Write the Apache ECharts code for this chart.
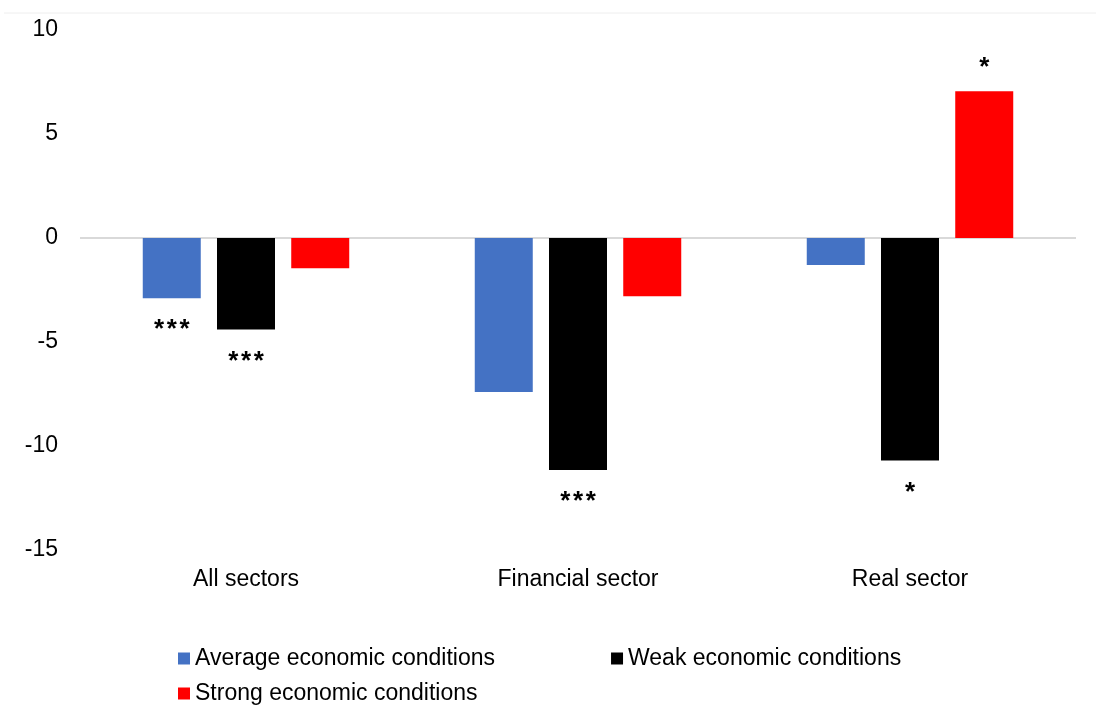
<!DOCTYPE html>
<html>
<head>
<meta charset="utf-8">
<script src="https://cdn.jsdelivr.net/npm/echarts@6/dist/echarts.min.js"></script>
<style>
html,body{margin:0;padding:0;background:#fff;}
#chart{width:1096px;height:709px;}
</style>
</head>
<body>
<div id="chart"></div>
<script>
const categories = ['All sectors', 'Financial sector', 'Real sector'];
const seriesNames = ['Average economic conditions', 'Weak economic conditions', 'Strong economic conditions'];
const averageValues = [-2.9, -7.4, -1.3];
const weakValues = [-4.4, -11.15, -10.7];
const strongValues = [-1.45, -2.8, 7.05];
const averageStars = ['***', '', ''];
const weakStars = ['***', '***', '*'];
const strongStars = ['', '', '*'];
const colors = ['#4472C4', '#000000', '#FF0000'];
const yTicks = { min: -15, max: 10, interval: 5 };

const FONT = '"Liberation Sans", Arial, Helvetica, sans-serif';

function makeSeries(name, values, stars, color, withZero) {
  const s = {
    name: name,
    type: 'bar',
    data: values.map(function (v) {
      return { value: v, label: { distance: v > 0 ? 11 : 19 } };
    }),
    barWidth: 58,
    barGap: '28%',
    itemStyle: { color: color },
    label: {
      show: true,
      position: 'outside',
      color: '#000',
      fontFamily: FONT,
      fontSize: 26,
      fontWeight: 'bold',
      formatter: function (p) {
        const st = stars[p.dataIndex];
        if (!st) return '';
        return st.split('').map(function (c) { return '{s|' + c + '}'; }).join('');
      },
      rich: {
        s: { fontFamily: FONT, fontSize: 26, fontWeight: 'bold', color: '#000', padding: [0, 1.3] }
      }
    }
  };
  if (withZero) {
    s.markLine = {
      silent: true,
      symbol: 'none',
      label: { show: false },
      lineStyle: { color: '#d9d9d9', width: 2, type: 'solid' },
      data: [{ yAxis: 0 }],
      z: 1
    };
  }
  return s;
}

const chart = echarts.init(document.getElementById('chart'));
chart.setOption({
  backgroundColor: '#ffffff',
  animation: false,
  textStyle: { fontFamily: FONT },
  grid: { left: 80, right: 20, top: 30, bottom: 159, containLabel: false },
  graphic: [{
    type: 'line',
    shape: { x1: 4, y1: 13, x2: 1096, y2: 13 },
    style: { stroke: '#eeeeee', lineWidth: 1 },
    silent: true
  }],
  legend: [{
    data: [seriesNames[0], seriesNames[1]],
    left: 173,
    top: 642,
    icon: 'rect',
    itemWidth: 12,
    itemHeight: 12,
    itemGap: 116,
    textStyle: { fontFamily: FONT, fontSize: 23, color: '#000' }
  }, {
    data: [seriesNames[2]],
    left: 173,
    top: 677,
    icon: 'rect',
    itemWidth: 12,
    itemHeight: 12,
    textStyle: { fontFamily: FONT, fontSize: 23, color: '#000' }
  }],
  xAxis: {
    type: 'category',
    data: categories,
    axisLine: { show: false, onZero: false },
    axisTick: { show: false },
    axisLabel: { margin: 18, fontSize: 23, color: '#000', fontFamily: FONT }
  },
  yAxis: {
    type: 'value',
    min: yTicks.min,
    max: yTicks.max,
    interval: yTicks.interval,
    splitLine: { show: false },
    axisLine: { show: false },
    axisTick: { show: false },
    axisLabel: { margin: 22, fontSize: 23, color: '#000', fontFamily: FONT }
  },
  series: [
    makeSeries(seriesNames[0], averageValues, averageStars, colors[0], true),
    makeSeries(seriesNames[1], weakValues, weakStars, colors[1], false),
    makeSeries(seriesNames[2], strongValues, strongStars, colors[2], false)
  ]
});
</script>
</body>
</html>
